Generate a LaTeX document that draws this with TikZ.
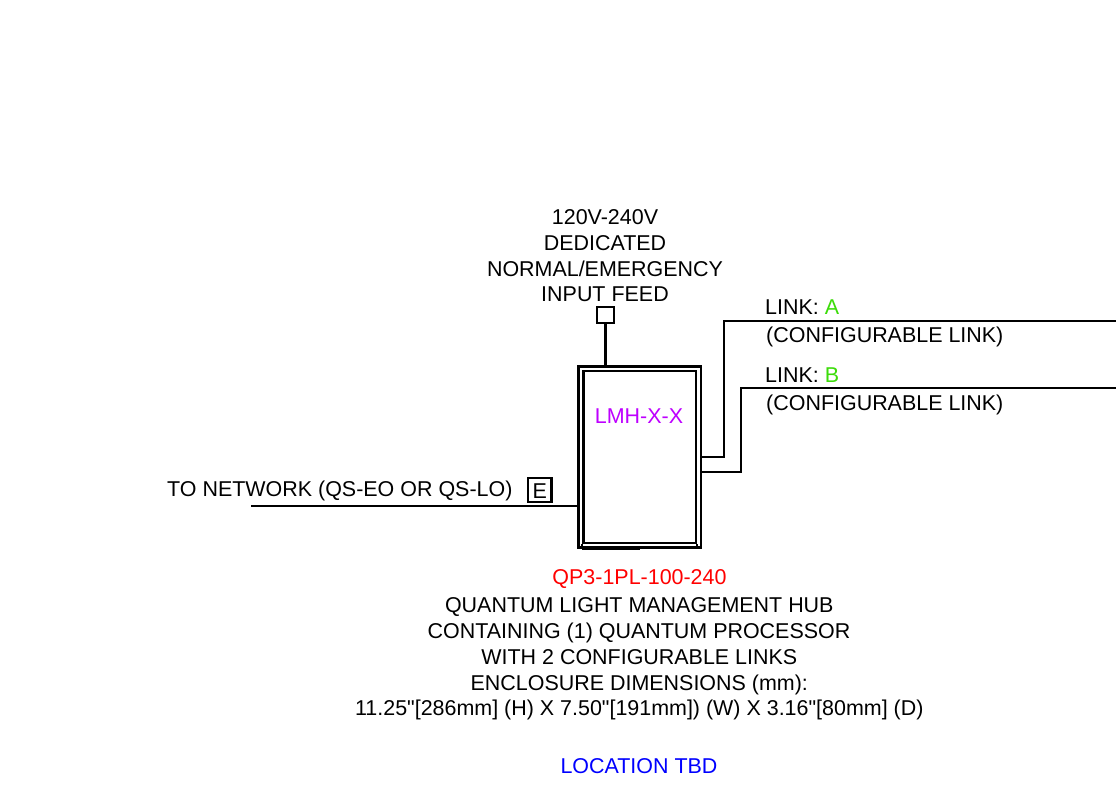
\documentclass[tikz,border=0pt]{standalone}
\usepackage{fontspec}
\setmainfont[Ligatures=TeXOff]{Liberation Sans}
\definecolor{linkgreen}{RGB}{60,220,10}
\definecolor{magentaish}{RGB}{190,0,255}
\tikzset{
  lbl/.style={inner sep=0pt,font=\fontsize{21.45}{21.45}\selectfont,anchor=base},
  lblw/.style={lbl,anchor=base west},
  wire/.style={line width=2.4pt,line join=miter},
  boxline/.style={draw,line width=2.4pt,inner sep=0pt}
}
\begin{document}
\begin{tikzpicture}[x=1pt,y=-1pt]
\useasboundingbox (0,0) rectangle (1116,806);
\fill[white] (0,0) rectangle (1116,806);
\node[lbl] (t1) at (605,224.5) {120V-240V};
\node[lbl] (t2) at (605,250) {DEDICATED};
\node[lbl] (t3) at (605,276) {NORMAL/EMERGENCY};
\node[lbl] (t4) at (605,301) {INPUT FEED};
\node[boxline,minimum width=17.5pt,minimum height=16pt] (feed) at (605.5,314.7) {};
\node[boxline,minimum width=122.4pt,minimum height=180.8pt] (hub) at (639.5,457) {};
\node[boxline,minimum width=112.4pt,minimum height=172pt] (inner) at (639.5,457.2) {};
\draw[wire] (inner.south west) -- (inner.south west |- hub.south);
\draw[wire] (inner.south east) -- (inner.south east |- hub.south);
\draw[line width=3pt] (inner.south west |- hub.south) -- (hub.south);
\draw[wire] (feed.south) -- (feed.south |- hub.north);
\node[lbl,text=magentaish] (lmh) at (639,423) {LMH-X-X};
\coordinate (aend) at (1116,321);
\coordinate (bend) at (1116,388);
\coordinate (aout) at (701,457);
\coordinate (bout) at (701,472);
\coordinate (net) at (251,506);
\draw[wire] (aout) -| (724,321) -- (aend);
\draw[wire] (bout) -| (741,388) -- (bend);
\draw[wire] (net) -- (net -| hub.west);
\node[lblw] (la) at (765,314) {LINK: \textcolor{linkgreen}{A}};
\node[lblw] (lac) at (766,342) {(CONFIGURABLE LINK)};
\node[lblw] (lb) at (765,382) {LINK: \textcolor{linkgreen}{B}};
\node[lblw] (lbc) at (766,410) {(CONFIGURABLE LINK)};
\node[lblw] (ln) at (167,496) {TO NETWORK (QS-EO OR QS-LO)};
\node[boxline,minimum width=23.5pt,minimum height=24pt] (e) at (539.8,490) {};
\node[lbl] (etext) at (539.8,498) {E};
\node[lbl,text=red] (q) at (639.5,584) {QP3-1PL-100-240};
\node[lbl] (d1) at (639.3,612) {QUANTUM LIGHT MANAGEMENT HUB};
\node[lbl] (d2) at (639,638) {CONTAINING (1) QUANTUM PROCESSOR};
\node[lbl] (d3) at (639.3,664) {WITH 2 CONFIGURABLE LINKS};
\node[lbl] (d4) at (639.3,690) {ENCLOSURE DIMENSIONS (mm):};
\node[lbl] (d5) at (639.3,715) {11.25"[286mm] (H) X 7.50"[191mm]) (W) X 3.16"[80mm] (D)};
\node[lbl,text=blue] (loc) at (639,773) {LOCATION TBD};
\end{tikzpicture}
\end{document}
